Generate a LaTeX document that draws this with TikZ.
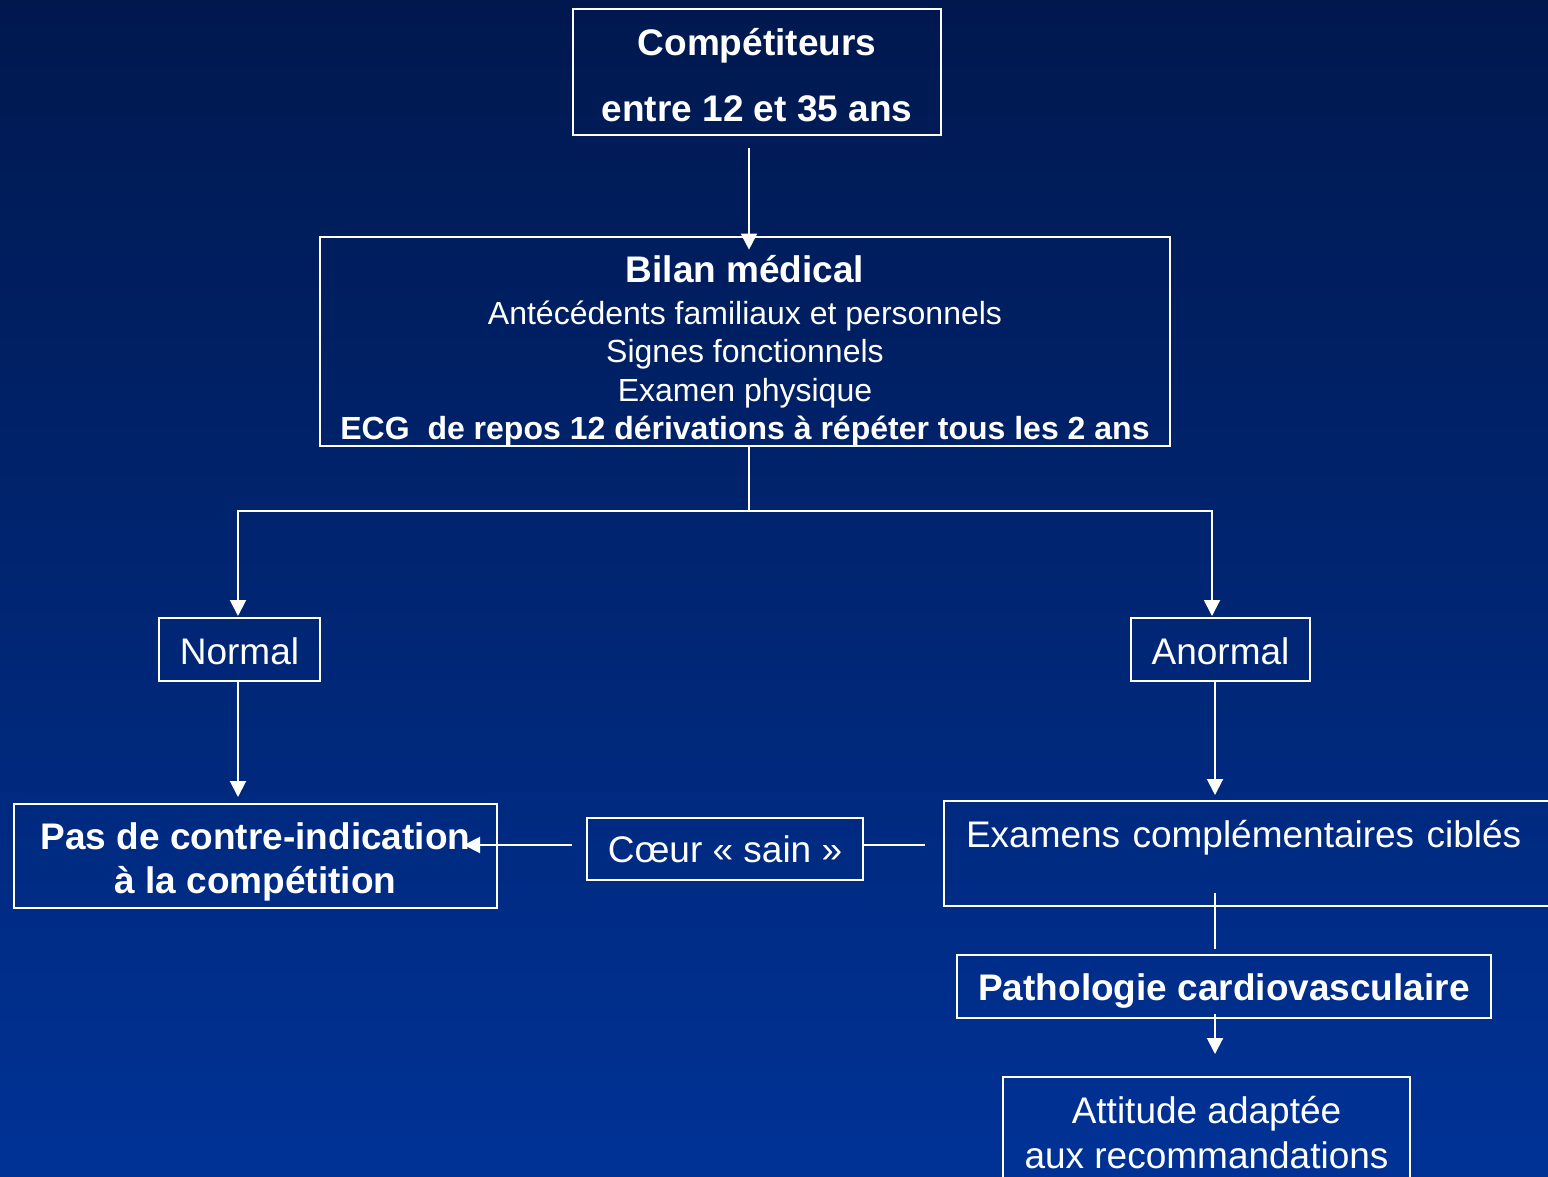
\documentclass[tikz,border=0pt]{standalone}
\usepackage{fontspec}
\setmainfont{Liberation Sans}
\usepackage{tikz}
\usetikzlibrary{arrows.meta}
\definecolor{ctop}{RGB}{0,24,78}
\definecolor{cbottom}{RGB}{0,50,150}

\begin{document}
\begin{tikzpicture}[x=1pt,y=-1pt,-,>={Triangle[width=16pt,length=16pt]},white,line width=2pt,
  main node/.style={draw,inner sep=0pt,align=center,font=\fontsize{37}{44}\selectfont\bfseries},
        others node/.style={draw,inner sep=0pt,align=center,font=\fontsize{37}{45}\selectfont}]
  \useasboundingbox (0,0) rectangle (1548,1177);
  \clip (0,0) rectangle (1548,1177);
  \shade[top color=ctop,bottom color=cbottom] (0,0) rectangle (1548,1177);

  \node[main node,minimum width=368,minimum height=126,font=\fontsize{37}{66}\selectfont\bfseries] (1) at (757,72) {\rule{0pt}{34pt}Compétiteurs\\entre 12 et 35 ans};
  \node[others node,minimum width=850,minimum height=209,font=\fontsize{32}{38.5}\selectfont] (2) at (745,341.5)
    {{\fontsize{37}{42}\selectfont\bfseries\rule{0pt}{46pt}Bilan médical}\\[3pt]
     Antécédents familiaux et personnels\\
     Signes fonctionnels\\
     Examen physique\\
     \textbf{ECG\ \ de repos 12 dérivations à répéter tous les 2 ans}};
  \node[others node,minimum width=161,minimum height=63] (3) at (239.5,649.5) {\rule{0pt}{30pt}Normal};
  \node[main node,minimum width=483,minimum height=104] (4) at (255.5,856) {\rule{0pt}{38.5pt}Pas de contre-indication\\à la compétition};
  \node[others node,minimum width=276,minimum height=62] (5) at (725,849) {Cœur « sain »};
  \node[others node,minimum width=179,minimum height=63] (6) at (1220.5,649.5) {\rule{0pt}{30pt}Anormal};
  \node[others node,anchor=north west,text width=586,inner xsep=22pt,minimum height=105,align=left,font=\fontsize{37}{40}\selectfont] (7) at (943,800) {Examens complémentaires ciblés\\\mbox{}};
  \node[main node,minimum width=534,minimum height=63] (8) at (1224,986.5) {\rule{0pt}{36pt}Pathologie cardiovasculaire};
  \node[others node,minimum width=407,minimum height=112] (9) at (1206.5,1133) {Attitude adaptée\\aux recommandations};

  % connectors
  \coordinate (s) at (749,511);
  \draw[->,shorten <=12pt,shorten >=-14pt] ([xshift=-8pt]1.south) -- ([xshift=-8pt]1.south |- 2.north);
  \draw (2.south -| s) -- (s);
  \draw[->,shorten >=1pt] (s) -| ([xshift=-1.5pt]3.north);
  \draw[->,shorten >=1pt] (s) -| ([xshift=-8.5pt]6.north);
  \draw[->,shorten >=6pt] ([xshift=-1.5pt]3.south) -- ([xshift=-1.5pt]3.south |- 4.north);
  \draw[->,shorten <=14pt,shorten >=-34pt] ([yshift=4pt]5.west) -- ([yshift=4pt]5.west -| 4.east);
  \draw[shorten >=18pt] ([yshift=4pt]5.east) -- ([yshift=4pt]5.east -| 7.west);
  \draw[->,shorten >=5pt] ([xshift=-5.5pt]6.south) -- ([xshift=-5.5pt]6.south |- 7.north);
  \draw[shorten <=-14pt,shorten >=5pt] ([xshift=-9pt]8.north |- 7.south) -- ([xshift=-9pt]8.north);
  \draw[->,shorten <=-5pt,shorten >=22pt] ([xshift=-9pt]8.south) -- ([xshift=-9pt]8.south |- 9.north);
\end{tikzpicture}
\end{document}
